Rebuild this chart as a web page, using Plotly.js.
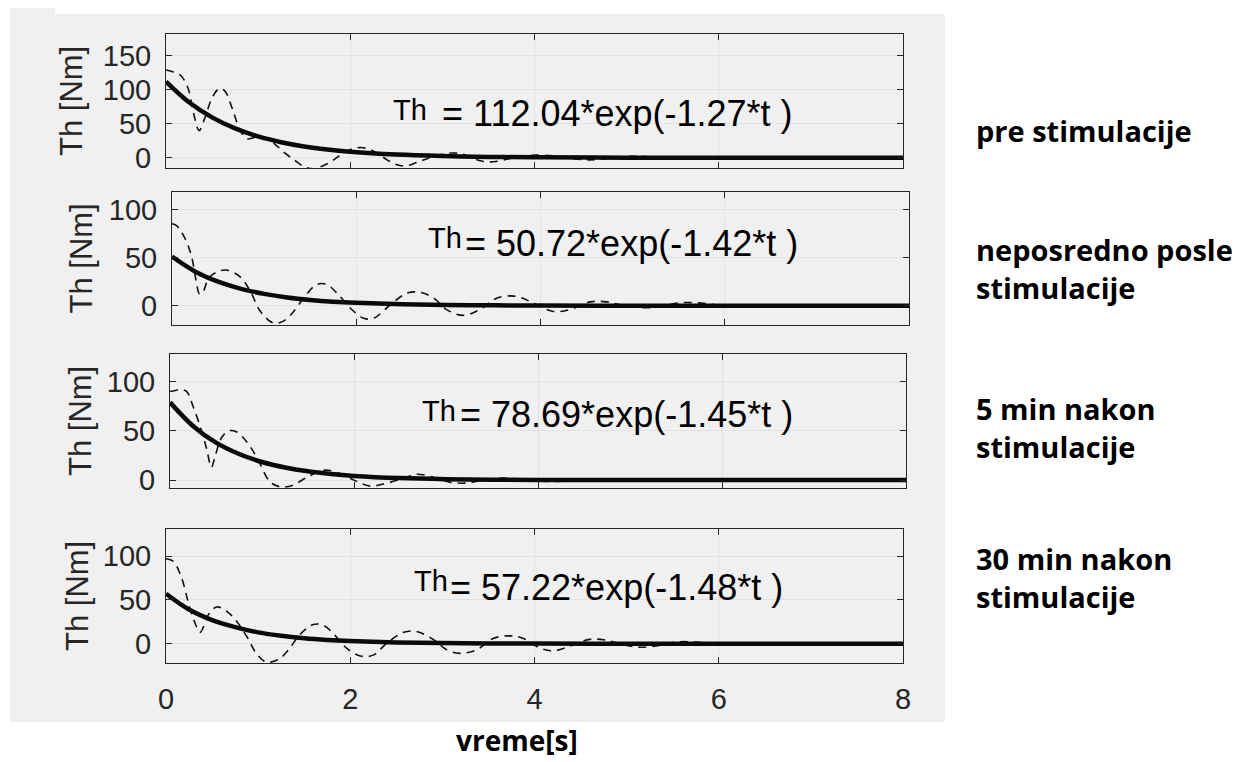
<!DOCTYPE html>
<html>
<head>
<meta charset="utf-8">
<script src="https://cdn.plot.ly/plotly-3.0.1.min.js"></script>
<style>html,body{margin:0;padding:0;background:#fff;}#chart{width:1243px;height:762px;}</style>
</head>
<body>
<div id="chart"></div>
<script>
// ---- data ----
const panelLabels = ["pre stimulacije", "neposredno posle<br>stimulacije", "5 min nakon<br>stimulacije", "30 min nakon<br>stimulacije"];
const fitEquations = ["= 112.04*exp(-1.27*t )", "= 50.72*exp(-1.42*t )", "= 78.69*exp(-1.45*t )", "= 57.22*exp(-1.48*t )"];
const xTicks = [0, 2, 4, 6, 8];
const yTicks1 = [0, 50, 100, 150];
const yTicks = [0, 50, 100];

// fitted exponential (solid)
const fitT = [0, 0.25, 0.5, 0.75, 1, 1.25, 1.5, 1.75, 2, 2.5, 3, 3.5, 4, 5, 6, 8];
const fit1 = [112, 81.6, 59.4, 43.2, 31.4, 22.9, 16.6, 12.1, 8.8, 4.7, 2.5, 1.3, 0.7, 0.2, 0.05, 0];
const fit2 = [51, 35.6, 25, 17.5, 12.3, 8.6, 6.0, 4.2, 3.0, 1.5, 0.7, 0.4, 0.2, 0.04, 0, 0];
const fit3 = [79, 55, 38, 26.5, 18.4, 12.8, 8.9, 6.2, 4.3, 2.1, 1.0, 0.5, 0.2, 0.1, 0, 0];
const fit4 = [57, 39, 27, 19, 13, 9, 6.2, 4.3, 3.0, 1.4, 0.7, 0.3, 0.2, 0, 0, 0];

// measured torque (dashed)
const t1d = [0,0.08,0.16,0.24,0.30,0.36,0.42,0.50,0.58,0.64,0.72,0.80,0.88,0.96,1.04,1.12,1.20,1.30,1.40,1.50,1.60,1.70,1.80,1.90,2.00,2.10,2.20,2.30,2.40,2.50,2.60,2.70,2.80,2.90,3.00,3.10,3.20,3.30,3.40,3.50,3.60,3.70,3.80,3.90,4.00,4.20,4.40,4.60,4.80,5.00,5.20,5.50,5.80,6.20];
const th1d = [129,126,121,102,65,40,58,88,102,98,72,42,28,30,31,27,18,6,-4,-13,-16,-12,-5,5,12,15,13,6,-3,-10,-12,-8,-3,2,5,7,6,1,-4,-6,-5,-2,1,3,4,3,-1,-3,-1,2,2,-1,0,0];
const t2d = [0,0.05,0.14,0.21,0.26,0.30,0.34,0.40,0.49,0.59,0.74,0.85,0.96,1.10,1.21,1.32,1.43,1.57,1.68,1.82,1.93,2.08,2.19,2.37,2.55,2.69,2.84,2.98,3.16,3.34,3.53,3.71,3.85,4.00,4.14,4.32,4.54,4.72,4.87,5.12,5.30,5.50,5.70,5.90,6.10,6.25];
const th2d = [85,83,70,52,27,12,15,29,35,37,30,15,-6,-18,-16,-6,8,22,22,10,-2,-13,-13,1,13,14,8,-4,-10,-4,8,10,6,-1,-6,-4,4,4,1,-2,-1,3,3,1,-1,0];
const t3d = [0,0.06,0.12,0.18,0.25,0.34,0.40,0.45,0.49,0.56,0.64,0.72,0.85,0.96,1.09,1.21,1.34,1.49,1.67,1.81,2.00,2.17,2.36,2.54,2.68,2.86,3.04,3.22,3.40,3.60,3.80,4.00,4.30,4.60,5.00,5.50,6.20];
const th3d = [90,91,92,90,75,51,31,13,24,43,50,49,37,20,-2,-7,-5,3,10,8,0,-6,-3,2,6,3,-2,-3,0,2,1,-1,-1,1,0,0,0];
const t4d = [0,0.08,0.17,0.24,0.31,0.37,0.46,0.55,0.66,0.77,0.89,0.98,1.09,1.22,1.33,1.45,1.60,1.71,1.83,1.96,2.11,2.25,2.40,2.58,2.72,2.90,3.05,3.19,3.37,3.55,3.74,3.88,4.06,4.21,4.38,4.60,4.78,5.00,5.16,5.35,5.55,5.75,5.95,6.10,6.25];
const th4d = [97,94,75,48,25,13,33,42,37,25,6,-11,-21,-18,-7,10,22,21,10,-5,-14,-13,1,13,14,5,-7,-11,-7,6,9,6,-5,-8,-3,5,4,-2,-4,-2,2,2,0,-1,0];

// ---- layout geometry (pixels) ----
const W = 1243, H = 762;
const px = v => v / W;
const py = v => 1 - v / H;
const boxes = [
  {x0: 166, x1: 903, y0: 34, y1: 168, yr: [-15, 182], yt: yTicks1, thX: 391, eqX: 440, eqY: 114, thY: 110, ttlX: 71, lblY: 130},
  {x0: 172, x1: 909, y0: 192, y1: 325, yr: [-20, 118], yt: yTicks, thX: 426, eqX: 463, eqY: 243, thY: 238, ttlX: 81, lblY: 268},
  {x0: 170, x1: 906, y0: 354, y1: 488, yr: [-8, 128], yt: yTicks, thX: 420, eqX: 458, eqY: 415, thY: 411, ttlX: 80, lblY: 427},
  {x0: 166, x1: 903, y0: 529, y1: 663, yr: [-22, 131], yt: yTicks, thX: 412, eqX: 448, eqY: 587, thY: 581, ttlX: 77, lblY: 577}
];
const dashT = [t1d, t2d, t3d, t4d];
const dashY = [th1d, th2d, th3d, th4d];
const fits = [fit1, fit2, fit3, fit4];

const axColor = '#262626';
const tickFont = {family: 'Liberation Sans, Arial, sans-serif', size: 29, color: axColor};
const labelFont = 'Open Sans, Lato, sans-serif';

const data = [];
const layout = {
  width: W, height: H,
  margin: {l: 0, r: 0, t: 0, b: 0},
  paper_bgcolor: '#ffffff',
  plot_bgcolor: '#ffffff',
  showlegend: false,
  annotations: [],
  shapes: [
    {type: 'rect', xref: 'paper', yref: 'paper', x0: px(10), x1: px(945), y0: py(722), y1: py(14), fillcolor: '#f0f0f0', line: {width: 0}, layer: 'below'},
    {type: 'rect', xref: 'paper', yref: 'paper', x0: px(10), x1: px(55), y0: py(15), y1: py(8), fillcolor: '#f0f0f0', line: {width: 0}, layer: 'below'}
  ]
};

boxes.forEach((b, i) => {
  const n = i + 1;
  const xa = n === 1 ? 'x' : 'x' + n;
  const ya = n === 1 ? 'y' : 'y' + n;
  data.push({x: dashT[i], y: dashY[i], xaxis: xa, yaxis: ya, type: 'scatter', mode: 'lines',
    line: {color: '#111111', width: 1.6, dash: '8px,6px', shape: 'spline', smoothing: 1}, hoverinfo: 'skip'});
  data.push({x: fitT, y: fits[i], xaxis: xa, yaxis: ya, type: 'scatter', mode: 'lines',
    line: {color: '#0a0a0a', width: 4.5, shape: 'spline', smoothing: 1}, hoverinfo: 'skip'});

  layout[n === 1 ? 'xaxis' : 'xaxis' + n] = {
    domain: [px(b.x0), px(b.x1)], anchor: ya, range: [0, 8],
    tickvals: xTicks, ticktext: xTicks.map(String),
    ticks: 'inside', ticklen: 6, tickcolor: axColor, mirror: 'ticks',
    showline: true, linecolor: axColor, linewidth: 1,
    showgrid: true, gridcolor: '#e2e2e2', zeroline: false,
    showticklabels: n === 4, tickfont: tickFont, ticklabelstandoff: 10
  };
  layout[n === 1 ? 'yaxis' : 'yaxis' + n] = {
    domain: [py(b.y1), py(b.y0)], anchor: xa, range: b.yr,
    tickvals: b.yt, ticktext: b.yt.map(String),
    ticks: 'inside', ticklen: 6, tickcolor: axColor, mirror: 'ticks',
    showline: true, linecolor: axColor, linewidth: 1,
    showgrid: true, gridcolor: '#e2e2e2', zeroline: false,
    tickfont: tickFont, ticklabelstandoff: 8
  };

  // y-axis title
  layout.annotations.push({xref: 'paper', yref: 'paper', x: px(b.ttlX), y: py((b.y0 + b.y1) / 2),
    text: 'Th [Nm]', textangle: -90, showarrow: false, xanchor: 'center', yanchor: 'middle',
    font: {family: 'Liberation Sans, Arial, sans-serif', size: 31, color: axColor}});
  // equation
  layout.annotations.push({xref: 'paper', yref: 'paper', x: px(b.thX), y: py(b.thY),
    text: 'Th', showarrow: false, xanchor: 'left', yanchor: 'middle',
    font: {family: 'Liberation Sans, Arial, sans-serif', size: 29, color: '#000000'}});
  layout.annotations.push({xref: 'paper', yref: 'paper', x: px(b.eqX), y: py(b.eqY),
    text: fitEquations[i], showarrow: false, xanchor: 'left', yanchor: 'middle',
    font: {family: 'Liberation Sans, Arial, sans-serif', size: 36, color: '#000000'}});
  // right-side condition label
  layout.annotations.push({xref: 'paper', yref: 'paper', x: px(974), y: py(b.lblY),
    text: '<b>' + panelLabels[i] + '</b>', showarrow: false, xanchor: 'left', yanchor: 'middle', align: 'left',
    font: {family: labelFont, size: 29, color: '#000000'}});
});

// x-axis title
layout.annotations.push({xref: 'paper', yref: 'paper', x: px(517), y: py(740),
  text: '<b>vreme[s]</b>', showarrow: false, xanchor: 'center', yanchor: 'middle',
  font: {family: labelFont, size: 28, color: '#000000'}});

Plotly.newPlot('chart', data, layout, {staticPlot: true, displayModeBar: false});
</script>
</body>
</html>
